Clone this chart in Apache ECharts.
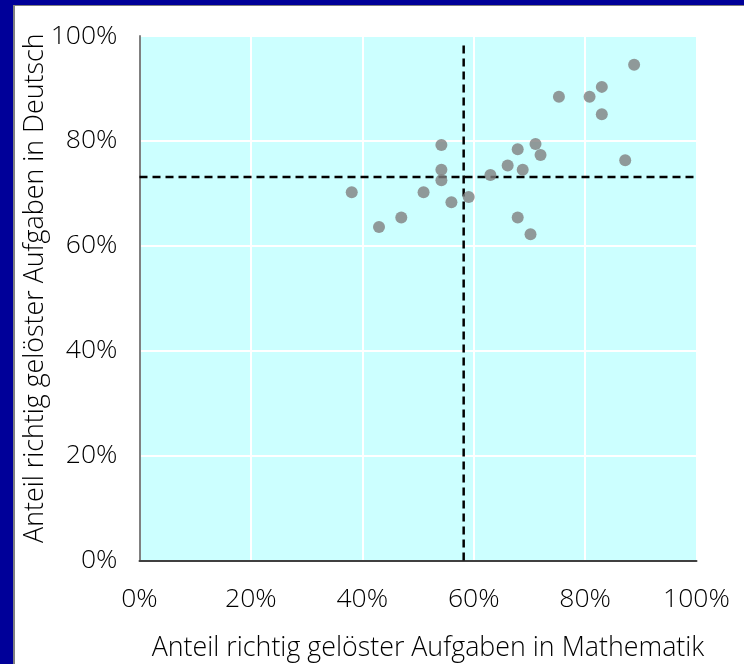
<!DOCTYPE html>
<html>
<head>
<meta charset="utf-8">
<script src="https://cdn.jsdelivr.net/npm/echarts@6/dist/echarts.min.js"></script>
<style>
html,body{margin:0;padding:0;background:#fff;}
#c{width:744px;height:664px;}
</style>
</head>
<body>
<div id="c"></div>
<script>
// Data: share of correctly solved tasks (math %, german %)
const mathScores    = [38.1, 43.0, 47.0, 51.0, 54.2, 54.2, 54.2, 56.0, 59.1, 63.0, 66.1, 67.9, 68.8, 67.9, 70.2, 71.1, 72.0, 75.3, 80.8, 83.0, 83.0, 87.2, 88.8];
const germanScores  = [70.2, 63.6, 65.4, 70.2, 79.2, 74.5, 72.5, 68.3, 69.3, 73.5, 75.3, 78.4, 74.5, 65.4, 62.2, 79.4, 77.3, 88.4, 88.4, 90.3, 85.1, 76.3, 94.5];
const meanMath = 58.2;
const meanGerman = 73.1;
const vLineTop = 98.3;
const tickValues = [0, 20, 40, 60, 80, 100];
const xTitle = 'Anteil richtig gelöster Aufgaben in Mathematik';
const yTitle = 'Anteil richtig gelöster Aufgaben in Deutsch';

const points = mathScores.map((m, i) => [m, germanScores[i]]);
const font = '"Open Sans", "DejaVu Sans", sans-serif';
const fsTick = 26.5;
const fsTitle = 26.8;

const chart = echarts.init(document.getElementById('c'), null, {renderer: 'canvas'});
chart.setOption({
  animation: false,
  backgroundColor: '#ffffff',
  graphic: [
    {type: 'rect', shape: {x: 0, y: 0, width: 744, height: 5}, style: {fill: '#000099'}, z: 0},
    {type: 'rect', shape: {x: 0, y: 0, width: 13, height: 664}, style: {fill: '#000099'}, z: 0},
    {type: 'rect', shape: {x: 13, y: 5, width: 731, height: 1}, style: {fill: '#808080'}, z: 0},
    {type: 'rect', shape: {x: 13, y: 5, width: 2, height: 659}, style: {fill: '#808080'}, z: 0}
  ],
  grid: {left: 139.5, top: 36, right: 47.5, bottom: 103.5, show: true, backgroundColor: '#CCFFFF', borderWidth: 0,
         containLabel: false, outerBoundsMode: 'none'},
  xAxis: {
    type: 'value', min: 0, max: 100, interval: 20,
    name: xTitle, nameLocation: 'middle', nameGap: 74, nameMoveOverlap: false,
    nameTextStyle: {fontFamily: font, fontSize: fsTitle, fontWeight: 300, color: '#000', padding: [0, 0, 0, 20]},
    axisLine: {show: true, onZero: false, lineStyle: {color: '#404040', width: 2}},
    axisTick: {show: false},
    axisLabel: {formatter: '{value}%', fontFamily: font, fontSize: fsTick, fontWeight: 300, color: '#000', margin: 25},
    splitLine: {show: true, lineStyle: {color: '#ffffff', width: 2}}
  },
  yAxis: {
    type: 'value', min: 0, max: 100, interval: 20,
    name: yTitle, nameLocation: 'middle', nameGap: 91, nameRotate: 90, nameMoveOverlap: false,
    nameTextStyle: {fontFamily: font, fontSize: fsTitle, fontWeight: 300, color: '#000', padding: [0, 0, 0, 20]},
    axisLine: {show: true, onZero: false, lineStyle: {color: '#808080', width: 2}},
    axisTick: {show: false},
    axisLabel: {formatter: '{value}%', fontFamily: font, fontSize: fsTick, fontWeight: 300, color: '#000', margin: 22},
    splitLine: {show: true, lineStyle: {color: '#ffffff', width: 2}}
  },
  series: [
    {
      type: 'line', data: [[0, meanGerman], [100, meanGerman]],
      symbol: 'none', lineStyle: {color: '#000', width: 2.5, type: [8, 5]}, z: 3, silent: true
    },
    {
      type: 'line', data: [[meanMath, 0], [meanMath, vLineTop]],
      symbol: 'none', lineStyle: {color: '#000', width: 2.5, type: [8, 5]}, z: 3, silent: true
    },
    {
      type: 'scatter', data: points, symbol: 'circle', symbolSize: 12,
      itemStyle: {color: '#808080'}, z: 4
    }
  ]
});
</script>
</body>
</html>
